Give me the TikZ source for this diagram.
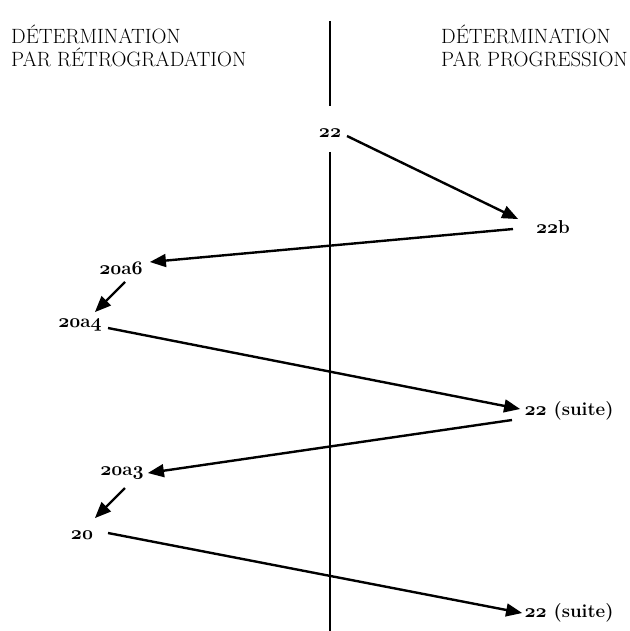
\documentclass[tikz,border=0pt]{standalone}
\usetikzlibrary{arrows}
\newcommand\osn[1]{{\usefont{OML}{cmm}{b}{it}#1}}

\begin{document}
\begin{tikzpicture}[>=triangle 45,x=0.75pt,y=-0.75pt,line width=1.8pt,
	lbl/.style={font=\fontsize{14}{17}\selectfont\bfseries,inner sep=0pt},
	hdr/.style={font=\fontsize{15.5}{17.25}\selectfont,align=left,anchor=north west,inner sep=0pt}]
				\useasboundingbox (0,0) rectangle (630,631);
				\node[hdr] (retro) at (10,24) {DÉTERMINATION\\PAR RÉTROGRADATION};
				\node[hdr] (progr) at (440,24) {DÉTERMINATION\\PAR PROGRESSION};
				
				\node[lbl] (n22) at (330,133) {\osn{22}};
				\node[lbl] (n22b) at (553,227) {\osn{22}b};
				\node[lbl] (n20a6) at (121,268) {\osn{20}a\osn{6}};
				\node[lbl] (n20a4) at (80,325) {\osn{20}a\osn{4}};
				\node[lbl] (suiteA) at (569,411) {\osn{22} (suite)};
				\node[lbl] (n20a3) at (122,473) {\osn{20}a\osn{3}};
				\node[lbl] (n20) at (82,535) {\osn{20}};
				\node[lbl] (suiteB) at (569,613) {\osn{22} (suite)};
				
				\draw (330,21) -- (330,106);
				\draw (330,152) -- (330,631);
				
				\draw[->] ([shift={(17,3)}]n22.center) -- ([shift={(-35,-8)}]n22b.center);
				\draw[->] ([shift={(-40,2)}]n22b.center) -- ([shift={(29,-6)}]n20a6.center);
				\draw[->] ([shift={(4,14)}]n20a6.center) -- ([shift={(15,-13)}]n20a4.center);
				\draw[->] ([shift={(28,3)}]n20a4.center) -- ([shift={(-49,-2)}]suiteA.center);
				\draw[->] ([shift={(-57,9)}]suiteA.center) -- ([shift={(26,0)}]n20a3.center);
				\draw[->] ([shift={(3,15)}]n20a3.center) -- ([shift={(13,-17)}]n20.center);
				\draw[->] ([shift={(26,-2)}]n20.center) -- ([shift={(-47,0)}]suiteB.center);
\end{tikzpicture}
\end{document}
